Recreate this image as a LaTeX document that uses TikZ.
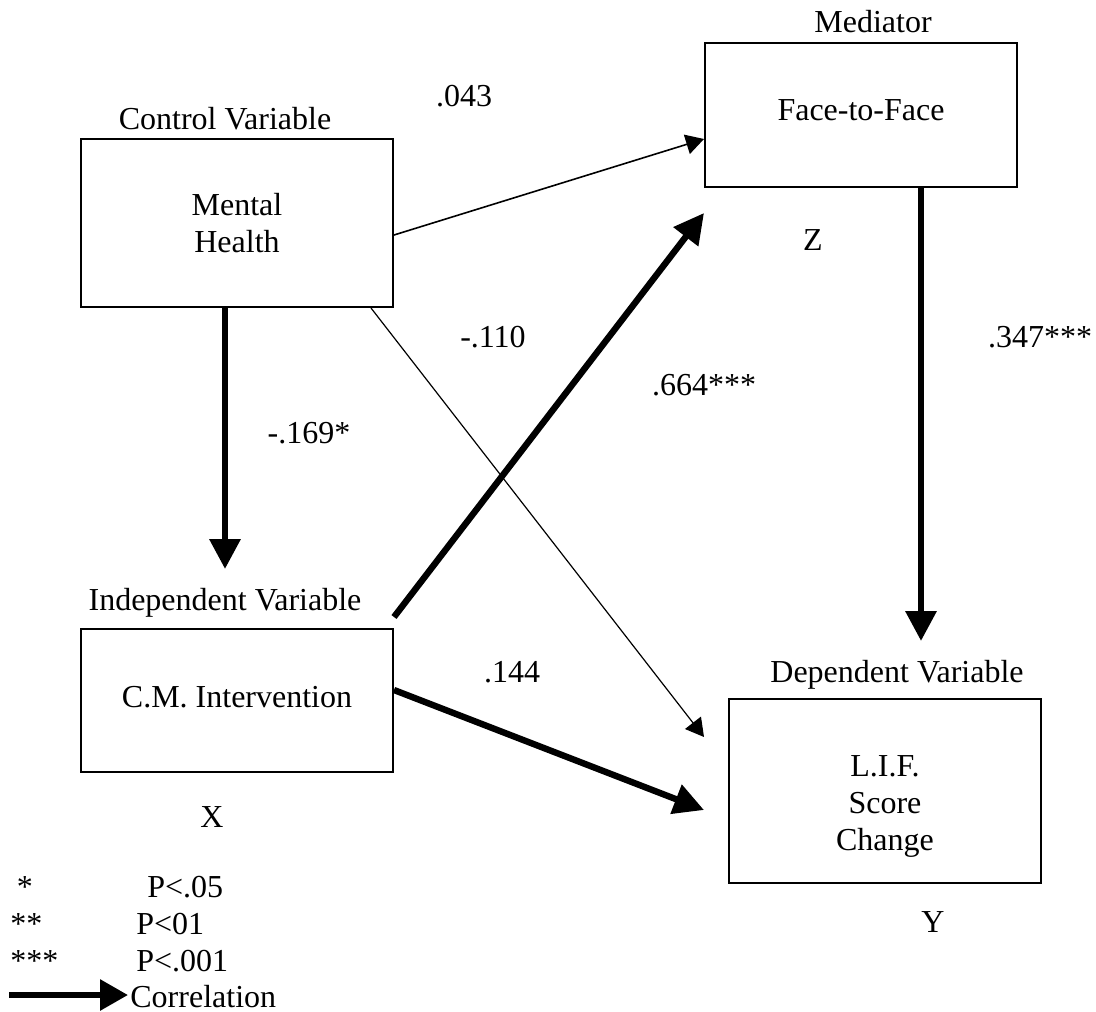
\documentclass[tikz,border=0pt]{standalone}
\usepackage{fontspec}
\setmainfont{Liberation Serif}
\usetikzlibrary{arrows.meta}
\begin{document}
\begin{tikzpicture}[x=0.5pt,y=-0.5pt,
  txt/.style={inner sep=0pt, font=\fontsize{16pt}{18.5pt}\selectfont},
  box/.style={draw, line width=1pt, minimum width=156pt, inner sep=0pt},
  thinarrow/.style={line width=0.8pt, -{Triangle[length=9pt,width=10pt]}},
  thickarrow/.style={line width=3.2pt, -{Triangle[length=15pt,width=15pt]}},
]
\useasboundingbox (0,0) rectangle (1096,1011);

% variable boxes
\node[box, minimum height=84pt]   (mh)  at (237,223)   {};
\node[box, minimum height=72pt]   (ftf) at (861,115)   {};
\node[box, minimum height=71.5pt] (cm)  at (237,700.5) {};
\node[box, minimum height=92pt]   (lif) at (885,791)   {};

% box contents
\node[txt, align=center] (mhtext)  at (237,223) {Mental\\Health};
\node[txt, anchor=base]  (ftftext) at (861,120) {Face-to-Face};
\node[txt, anchor=base]  (cmtext)  at (237,707) {C.M. Intervention};
\node[txt, align=center] (liftext) at (885,806) {L.I.F.\\Score\\Change};

% role labels
\node[txt, anchor=base] (ctrl)   at (225,129) {Control Variable};
\node[txt, anchor=base] (medlab) at (873,33)  {Mediator};
\node[txt, anchor=base] (indlab) at (225,610) {Independent Variable};
\node[txt, anchor=base] (deplab) at (897,682) {Dependent Variable};
\node[txt, anchor=base] (zlab)   at (813,250) {Z};
\node[txt, anchor=base] (xlab)   at (212,827) {X};
\node[txt, anchor=base] (ylab)   at (933,932) {Y};

% path coefficients
\node[txt, anchor=base] (c1) at (464,106)  {.043};
\node[txt, anchor=base] (c2) at (493,347)  {-.110};
\node[txt, anchor=base] (c3) at (704,395)  {.664***};
\node[txt, anchor=base] (c4) at (1040,347) {.347***};
\node[txt, anchor=base] (c5) at (309,443)  {-.169*};
\node[txt, anchor=base] (c6) at (512,682)  {.144};

% paths
\draw[thinarrow] ([yshift=-6pt]mh.east) -- ([yshift=-12pt]ftf.west);
\draw[thinarrow, line width=0.6pt] ([xshift=-11.5pt]mh.south east) -- ([xshift=-12pt,yshift=-19.5pt]lif.north west);
\draw[thickarrow] ([xshift=-6pt]mh.south) -- ([xshift=-6pt,yshift=29.5pt]cm.north);
\draw[thickarrow] ([yshift=5.5pt]cm.north east) -- ([yshift=-12.5pt]ftf.south west);
\draw[thickarrow] ([yshift=5.25pt]cm.east) -- ([xshift=-12pt,yshift=-9.5pt]lif.west);
\draw[thickarrow] ([xshift=30pt]ftf.south) -- ([xshift=18pt,yshift=28.5pt]lif.north);

% legend
\node[txt, anchor=base]      (s1)   at (25,897)   {*};
\node[txt, anchor=base west] (p1)   at (147,897)  {P<.05};
\node[txt, anchor=base west] (s2)   at (10,934)   {**};
\node[txt, anchor=base west] (p2)   at (136,934)  {P<01};
\node[txt, anchor=base west] (s3)   at (10,971)   {***};
\node[txt, anchor=base west] (p3)   at (136,971)  {P<.001};
\node[txt, anchor=base west] (corr) at (130,1007) {Correlation};
\coordinate (legs) at (9,995);
\coordinate (lege) at (128,995);
\draw[line width=3pt, -{Triangle[length=14pt,width=15pt]}] (legs) -- (lege);
\end{tikzpicture}
\end{document}
